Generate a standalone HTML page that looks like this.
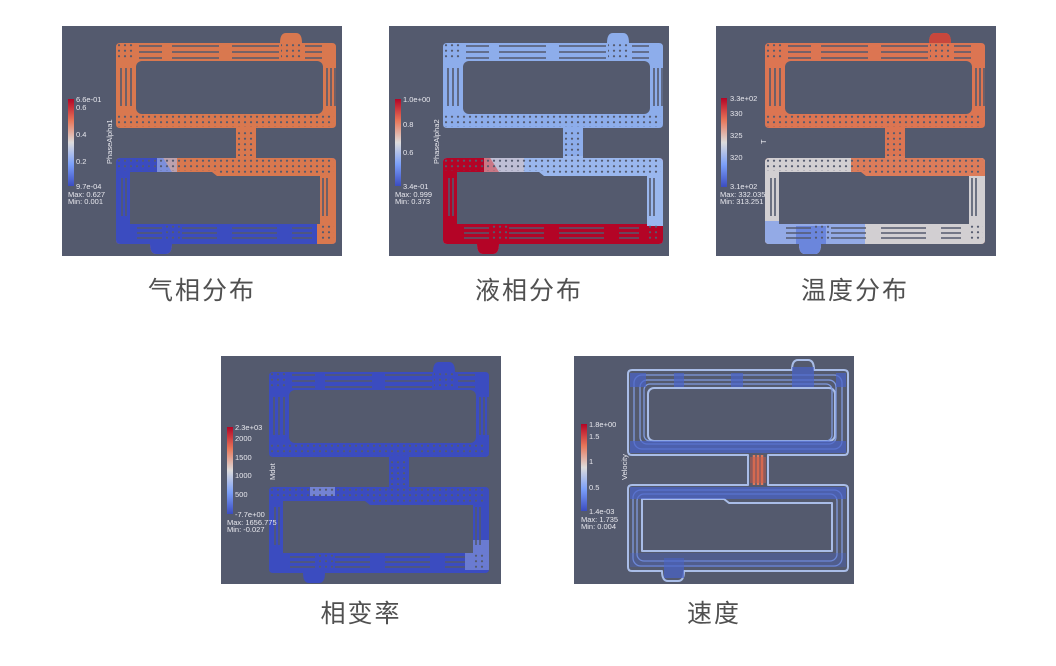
<!DOCTYPE html>
<html><head><meta charset="utf-8"><style>
html,body{margin:0;padding:0;background:#fff;width:1056px;height:666px;overflow:hidden;position:relative;font-family:"Liberation Sans","Noto Sans CJK SC",sans-serif}
.p{position:absolute;background:#545a6e}
.cap{position:absolute;font-size:25px;color:#505050;letter-spacing:2px;transform:translateX(-50%);white-space:nowrap}
svg text{font-family:"Liberation Sans",sans-serif;fill:#e8e8ee;font-size:7.5px}
</style></head><body>
<svg width="0" height="0" style="position:absolute">
<defs>
<linearGradient id="cb" x1="0" y1="0" x2="0" y2="1">
<stop offset="0" stop-color="#b40426"/><stop offset="0.25" stop-color="#e8765a"/><stop offset="0.5" stop-color="#dddcdc"/><stop offset="0.75" stop-color="#7b9ff9"/><stop offset="1" stop-color="#3b4cc0"/></linearGradient>
<pattern id="dots" width="6" height="5.5" patternUnits="userSpaceOnUse"><circle cx="3" cy="2.7" r="1.1" fill="#545a6e"/></pattern>
<path id="fr" d="M58,17 H218 Q218,7 224,7 H234 Q240,7 240,17 H270 Q274,17 274,21 V98 Q274,102 270,102 H194 V132 H270 Q274,132 274,136 V214 Q274,218 270,218 H110 Q110,228 104,228 H94 Q88,228 88,218 H58 Q54,218 54,214 V136 Q54,132 58,132 H174 V102 H58 Q54,102 54,98 V21 Q54,17 58,17 Z"/>
<clipPath id="cf"><use href="#fr"/></clipPath>
<g id="holes" fill="#545a6e" stroke="#545a6e">
<rect x="74" y="35" width="187" height="53" rx="6" stroke="none"/>
<path d="M68,146 H150 L155,150 H258 V198 H68 Z" stroke="none"/>
<g stroke-width="1.6" fill="none">
<path d="M77,20H100M110,20H157M170,20H217M243,20H260M77,26H100M110,26H157M170,26H217M243,26H260M77,32H100M110,32H157M170,32H217M243,32H260"/>
<path d="M59,42V80M64,42V80M69,42V80M265,42V80M269,42V80M273,42V80"/>
<path d="M60,152V190M64,152V190M261,152V190M265,152V190M75,202H100M120,202H155M170,202H215M230,202H250M75,207H100M120,207H155M170,207H215M230,207H250M75,212H100M120,212H155M170,212H215M230,212H250"/>
</g>
<rect x="56" y="18" width="16" height="16" fill="url(#dots)" stroke="none"/>
<rect x="219" y="18" width="22" height="16" fill="url(#dots)" stroke="none"/>
<rect x="56" y="88" width="216" height="13" fill="url(#dots)" stroke="none"/>
<rect x="176" y="104" width="16" height="26" fill="url(#dots)" stroke="none"/>
<rect x="56" y="133" width="216" height="12" fill="url(#dots)" stroke="none"/>
<rect x="156" y="145" width="116" height="5" fill="url(#dots)" stroke="none"/>
<rect x="100" y="199" width="20" height="16" fill="url(#dots)" stroke="none"/>
<rect x="258" y="199" width="14" height="16" fill="url(#dots)" stroke="none"/>
</g>
</defs></svg>

<!-- Panel 1 -->
<div class="p" style="left:62px;top:26px;width:280px;height:230px">
<svg width="280" height="230">
<g clip-path="url(#cf)">
<rect width="280" height="230" fill="#d9784f"/>
<rect x="0" y="130" width="280" height="100" fill="#3b4cc0"/>
<path d="M100,130 H280 V230 H255 V150 H150 L145,146 H110 Z" fill="#d9784f"/>
<rect x="95" y="130" width="20" height="20" fill="#a9bcec" opacity=".6"/>
</g>
<use href="#holes"/>
<rect x="6" y="73" width="6" height="87" fill="url(#cb)"/>
<text x="14" y="76">6.6e-01</text><text x="14" y="84">0.6</text><text x="14" y="111">0.4</text><text x="14" y="138">0.2</text><text x="14" y="163">9.7e-04</text>
<text x="6" y="171">Max: 0.627</text><text x="6" y="178">Min: 0.001</text>
<text transform="translate(50,138) rotate(-90)">PhaseAlpha1</text>
</svg></div>

<!-- Panel 2 -->
<div class="p" style="left:389px;top:26px;width:280px;height:230px">
<svg width="280" height="230">
<g clip-path="url(#cf)">
<rect width="280" height="230" fill="#8dadeb"/>
<rect x="0" y="130" width="280" height="100" fill="#b40426"/>
<path d="M100,130 H280 V200 H258 V150 H150 L145,146 H110 Z" fill="#9ab7ee"/>
<rect x="95" y="130" width="40" height="20" fill="#d8c4c4" opacity=".6"/>
</g>
<use href="#holes"/>
<rect x="6" y="73" width="6" height="87" fill="url(#cb)"/>
<text x="14" y="76">1.0e+00</text><text x="14" y="101">0.8</text><text x="14" y="129">0.6</text><text x="14" y="163">3.4e-01</text>
<text x="6" y="171">Max: 0.999</text><text x="6" y="178">Min: 0.373</text>
<text transform="translate(50,138) rotate(-90)">PhaseAlpha2</text>
</svg></div>

<!-- Panel 3 -->
<div class="p" style="left:716px;top:26px;width:280px;height:230px">
<svg width="280" height="230">
<g transform="translate(-5,0)">
<g clip-path="url(#cf)">
<rect width="280" height="230" fill="#dc7552"/>
<rect x="0" y="130" width="280" height="100" fill="#d2cfd2"/>
<path d="M140,130 H280 V150 H140Z" fill="#dc7c5a"/>
<rect x="54" y="195" width="100" height="35" fill="#93aae6"/>
<rect x="85" y="200" width="30" height="30" fill="#6b86dc"/>
<rect x="215" y="5" width="30" height="12" fill="#c9473c"/>
</g>
<use href="#holes"/>
</g>
<rect x="5" y="72" width="6" height="89" fill="url(#cb)"/>
<text x="14" y="75">3.3e+02</text><text x="14" y="90">330</text><text x="14" y="112">325</text><text x="14" y="134">320</text><text x="14" y="163">3.1e+02</text>
<text x="4" y="171">Max: 332.035</text><text x="4" y="178">Min: 313.251</text>
<text transform="translate(50,118) rotate(-90)">T</text>
</svg></div>

<!-- Panel 4 -->
<div class="p" style="left:221px;top:356px;width:280px;height:228px">
<svg width="280" height="228">
<g transform="translate(-6,-1)">
<g clip-path="url(#cf)">
<rect width="280" height="230" fill="#3b4cc0"/>
<rect x="95" y="131" width="25" height="10" fill="#9aa8e0" opacity=".6"/>
<rect x="250" y="185" width="24" height="30" fill="#8b9bdc" opacity=".6"/>
</g>
<use href="#holes"/>
</g>
<rect x="6" y="71" width="6" height="87" fill="url(#cb)"/>
<text x="14" y="74">2.3e+03</text><text x="14" y="85">2000</text><text x="14" y="104">1500</text><text x="14" y="122">1000</text><text x="14" y="141">500</text><text x="14" y="161">-7.7e+00</text>
<text x="6" y="169">Max: 1656.775</text><text x="6" y="176">Min: -0.027</text>
<text transform="translate(54,124) rotate(-90)">Mdot</text>
</svg></div>

<!-- Panel 5 -->
<div class="p" style="left:574px;top:356px;width:280px;height:228px">
<svg width="280" height="228">
<g transform="translate(0,-3)" fill="none" stroke-linejoin="round">
<use href="#fr" stroke="#a9bde8" stroke-width="2"/>
<rect x="74" y="35" width="187" height="53" rx="6" stroke="#a9bde8" stroke-width="2"/>
<path d="M68,146 H150 L155,150 H258 V198 H68 Z" stroke="#a9bde8" stroke-width="2"/>
<g stroke="#7f9ae0" stroke-width="1.3">
<rect x="60" y="22" width="208" height="74" rx="8"/>
<rect x="66" y="27" width="196" height="64" rx="7"/>
<rect x="70" y="31" width="188" height="57" rx="6"/>
<rect x="59" y="137" width="209" height="76" rx="8"/>
<rect x="63" y="141" width="200" height="67" rx="7"/>
</g>
<path d="M180,102 V132 M184,102 V132 M188,102 V132" stroke="#e0785a" stroke-width="2.5"/>
<rect x="176" y="104" width="16" height="26" fill="#c95a45" opacity=".5" stroke="none"/>
<g fill="#4a63c8" stroke="none" opacity=".7">
<rect x="56" y="20" width="16" height="14"/><rect x="100" y="20" width="10" height="14"/><rect x="157" y="20" width="12" height="14"/><rect x="218" y="14" width="22" height="20"/><rect x="262" y="20" width="10" height="14"/>
<rect x="56" y="88" width="216" height="12"/><rect x="56" y="134" width="216" height="12"/>
<rect x="56" y="200" width="216" height="14" opacity=".5"/><rect x="90" y="205" width="20" height="20"/>
</g>
</g>
<rect x="7" y="68" width="6" height="87" fill="url(#cb)"/>
<text x="15" y="71">1.8e+00</text><text x="15" y="83">1.5</text><text x="15" y="108">1</text><text x="15" y="134">0.5</text><text x="15" y="158">1.4e-03</text>
<text x="7" y="166">Max: 1.735</text><text x="7" y="173">Min: 0.004</text>
<text transform="translate(53,124) rotate(-90)">Velocity</text>
</svg></div>

<div class="cap" style="left:202px;top:271px">气相分布</div>
<div class="cap" style="left:529px;top:271px">液相分布</div>
<div class="cap" style="left:855px;top:271px">温度分布</div>
<div class="cap" style="left:361px;top:594px">相变率</div>
<div class="cap" style="left:714px;top:594px">速度</div>
</body></html>
